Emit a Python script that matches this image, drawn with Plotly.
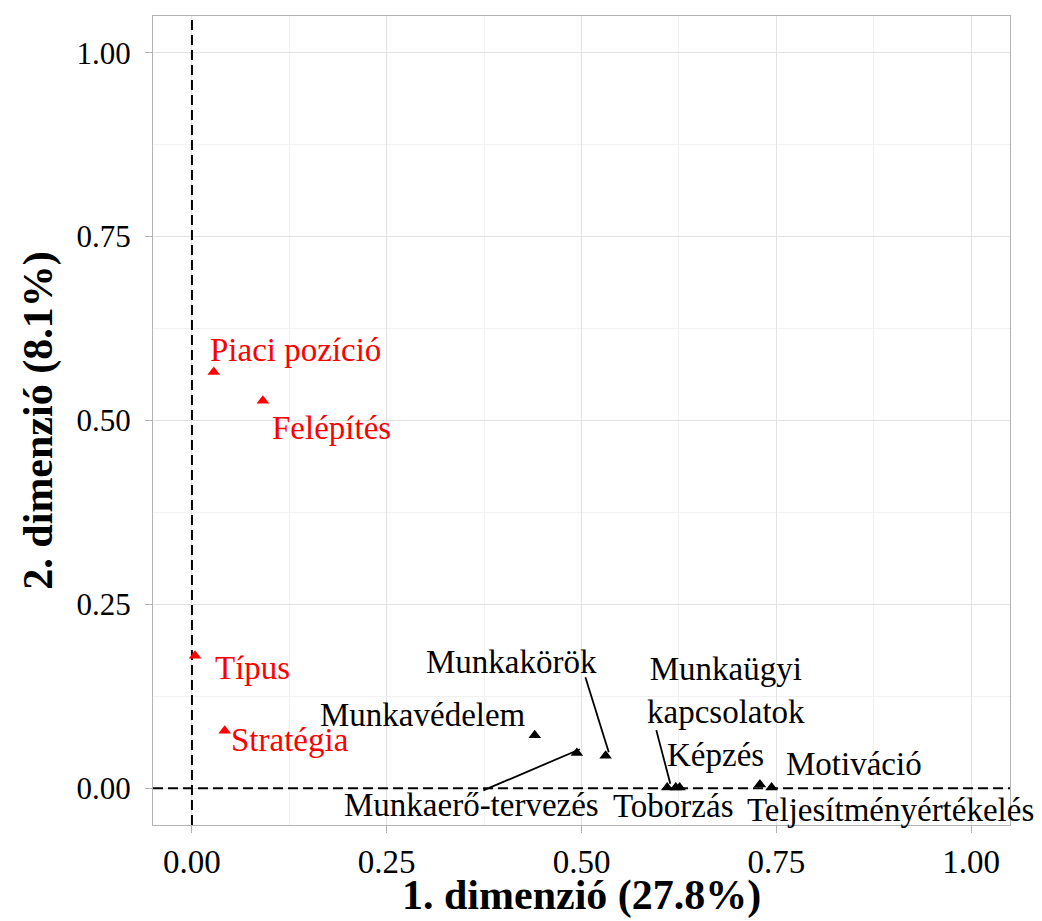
import plotly.graph_objects as go

# Coordinates of the variables on the first two dimensions
categories = ["Piaci pozíció", "Felépítés", "Típus", "Stratégia",
              "Munkavédelem", "Munkaerő-tervezés", "Munkakörök",
              "Munkaügyi<br>kapcsolatok", "Toborzás", "Képzés",
              "Motiváció", "Teljesítményértékelés"]
dim1 = [0.028, 0.091, 0.004, 0.042,
        0.440, 0.494, 0.531,
        0.610, 0.621, 0.626,
        0.729, 0.744]
dim2 = [0.566, 0.527, 0.180, 0.078,
        0.072, 0.048, 0.044,
        0.001, 0.001, 0.001,
        0.005, 0.001]
group = ["org", "org", "org", "org",
         "hr", "hr", "hr",
         "hr", "hr", "hr",
         "hr", "hr"]

tick_vals = [0.0, 0.25, 0.5, 0.75, 1.0]
tick_text = ["0.00", "0.25", "0.50", "0.75", "1.00"]

# Label placement (offset from each point, in axis units)
label_dx = [0.105, 0.088, 0.074, 0.084,
            -0.143, -0.135, -0.121,
            0.076, -0.003, 0.046,
            0.121, 0.152]
label_dy = [0.030, -0.037, -0.017, -0.013,
            0.027, -0.071, 0.127,
            0.132, -0.025, 0.044,
            0.028, -0.031]
# Leader segments: start offset from the point, None when no segment is drawn
seg_dx = [None, None, None, None,
          None, -0.120, -0.026,
          -0.014, None, None,
          None, None]
seg_dy = [None, None, None, None,
          None, -0.051, 0.107,
          0.078, None, None,
          None, None]

colors = {"org": "#FF0000", "hr": "#000000"}
FONT = "Liberation Serif, Times New Roman, serif"
DASH = dict(color="black", width=2, dash="10px,5px")

fig = go.Figure()

# Reference lines through the origin
fig.add_trace(go.Scatter(x=[0, 0], y=[-0.05, 1.05], mode="lines", line=DASH,
                         hoverinfo="skip", showlegend=False))
fig.add_trace(go.Scatter(x=[-0.05, 1.05], y=[0, 0], mode="lines", line=DASH,
                         hoverinfo="skip", showlegend=False))

# Leader segments between labels and their points
for i in range(len(categories)):
    if seg_dx[i] is None:
        continue
    fig.add_trace(go.Scatter(
        x=[dim1[i] + seg_dx[i], dim1[i] - 0.004 * (seg_dx[i] / abs(seg_dx[i]))],
        y=[dim2[i] + seg_dy[i], dim2[i] + 0.005],
        mode="lines", line=dict(color="black", width=1.8),
        hoverinfo="skip", showlegend=False,
    ))

for g in ["org", "hr"]:
    idx = [i for i, v in enumerate(group) if v == g]
    fig.add_trace(go.Scatter(
        x=[dim1[i] for i in idx],
        y=[dim2[i] for i in idx],
        mode="markers",
        marker=dict(symbol="triangle-up", size=11, color=colors[g], line=dict(width=0)),
        hoverinfo="skip",
        showlegend=False,
    ))

for i, name in enumerate(categories):
    fig.add_annotation(
        x=dim1[i] + label_dx[i], y=dim2[i] + label_dy[i],
        text=name, showarrow=False,
        font=dict(family=FONT, size=33, color=colors[group[i]]),
    )

# Horizontal axis title, anchored to the bottom edge of the page
fig.add_annotation(
    x=0.5, y=-0.1187, xref="paper", yref="paper",
    xanchor="center", yanchor="bottom",
    text="<b>1. dimenzió (27.8%)</b>", showarrow=False,
    font=dict(family=FONT, size=42, color="black"),
)

axis_common = dict(
    range=[-0.05, 1.05],
    tickvals=tick_vals,
    ticktext=tick_text,
    ticks="outside",
    ticklen=7,
    tickwidth=1,
    tickcolor="#B3B3B3",
    showgrid=True,
    gridcolor="#E2E2E2",
    gridwidth=1,
    minor=dict(tickvals=[0.125, 0.375, 0.625, 0.875], showgrid=True,
               gridcolor="#F1F1F1", gridwidth=1),
    zeroline=False,
    showline=True,
    linecolor="#B3B3B3",
    linewidth=1,
    mirror=True,
    fixedrange=True,
    automargin=False,
)

fig.update_layout(
    width=1042,
    height=921,
    margin=dict(l=153, r=32, t=16, b=96),
    paper_bgcolor="white",
    plot_bgcolor="white",
    xaxis=dict(axis_common,
               tickfont=dict(family=FONT, size=33, color="black"),
               ticklabelstandoff=0),
    yaxis=dict(axis_common,
               tickfont=dict(family=FONT, size=31, color="black"),
               title=dict(text="<b>2. dimenzió (8.1%)</b>",
                          font=dict(family=FONT, size=42, color="black"),
                          standoff=10),
               ticklabelstandoff=8),
)

fig.write_html("out.html")
